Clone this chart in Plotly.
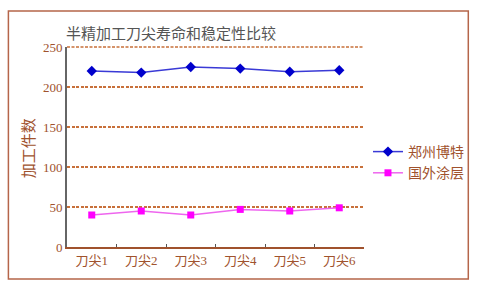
import plotly.graph_objects as go

categories = ["刀尖1", "刀尖2", "刀尖3", "刀尖4", "刀尖5", "刀尖6"]
zhengzhou = [220, 218, 225, 223, 219, 221]
foreign = [40, 45, 40, 47, 45, 49]
series_names = ["郑州博特", "国外涂层"]
title_text = "半精加工刀尖寿命和稳定性比较"
ytitle_text = "加工件数"
y_max = 250

W, H = 481, 284
L, R, T, B = 67, 115, 47, 37
pw, ph = W - L - R, H - T - B

def px(x):
    return (x - L) / pw

def py(y):
    return (H - B - y) / ph

brown = "#A0522D"
gridc = "#C8703A"
fig = go.Figure()
fig.add_trace(go.Scatter(x=categories, y=zhengzhou, name=series_names[0], mode="lines+markers",
                         line=dict(color="#3a3ad6", width=1.5),
                         marker=dict(symbol="diamond", size=8, color="#0000CC")))
fig.add_trace(go.Scatter(x=categories, y=foreign, name=series_names[1], mode="lines+markers",
                         line=dict(color="#EE66EE", width=1.5),
                         marker=dict(symbol="square", size=7, color="#FF00FF")))

fig.update_layout(
    width=W, height=H, margin=dict(l=L, r=R, t=T, b=B),
    paper_bgcolor="white", plot_bgcolor="white",
    font=dict(family="Liberation Serif, Noto Sans CJK SC", color=brown, size=12),
    showlegend=True,
    legend=dict(x=px(370), y=py(136), xanchor="left", yanchor="top",
                font=dict(size=14, color=brown, family="Noto Sans CJK SC"),
                bgcolor="rgba(0,0,0,0)", tracegroupgap=0, itemwidth=30),
    xaxis=dict(showgrid=False, showline=True, linecolor=brown, linewidth=2,
               tickson="boundaries", ticks="inside", ticklen=3, tickcolor="#555",
               tickfont=dict(size=13, color=brown, family="Liberation Serif, Noto Sans CJK SC"),
               range=[-0.5, 5.5], fixedrange=True),
    yaxis=dict(range=[0, y_max], tickvals=[0, 50, 100, 150, 200, 250], showline=True,
               linecolor="#666", linewidth=2, showgrid=True, gridcolor=gridc,
               griddash="3px,1.5px", gridwidth=1.5, zeroline=False, ticks="",
               tickfont=dict(size=13, color=brown), fixedrange=True, layer="below traces"),
    shapes=[dict(type="rect", xref="paper", yref="paper", x0=px(8), x1=px(471),
                 y0=py(279), y1=py(11), line=dict(color="#B5654A", width=1.5),
                 fillcolor="rgba(0,0,0,0)", layer="below"),
            dict(type="line", xref="paper", yref="paper", x0=0, x1=1, y0=1, y1=1,
                 line=dict(color=gridc, width=1.5, dash="3px,1.5px"), layer="below")],
    annotations=[
        dict(text=title_text, xref="paper", yref="paper", x=px(64), y=py(32),
             xanchor="left", yanchor="middle", showarrow=False,
             font=dict(size=15, color="#555", family="Noto Sans CJK SC")),
        dict(text=ytitle_text, xref="paper", yref="paper", x=px(27), y=py(148),
             xanchor="center", yanchor="middle", showarrow=False, textangle=-90,
             font=dict(size=15, color=brown, family="Noto Sans CJK SC")),
    ],
)

fig.write_html("out.html")
